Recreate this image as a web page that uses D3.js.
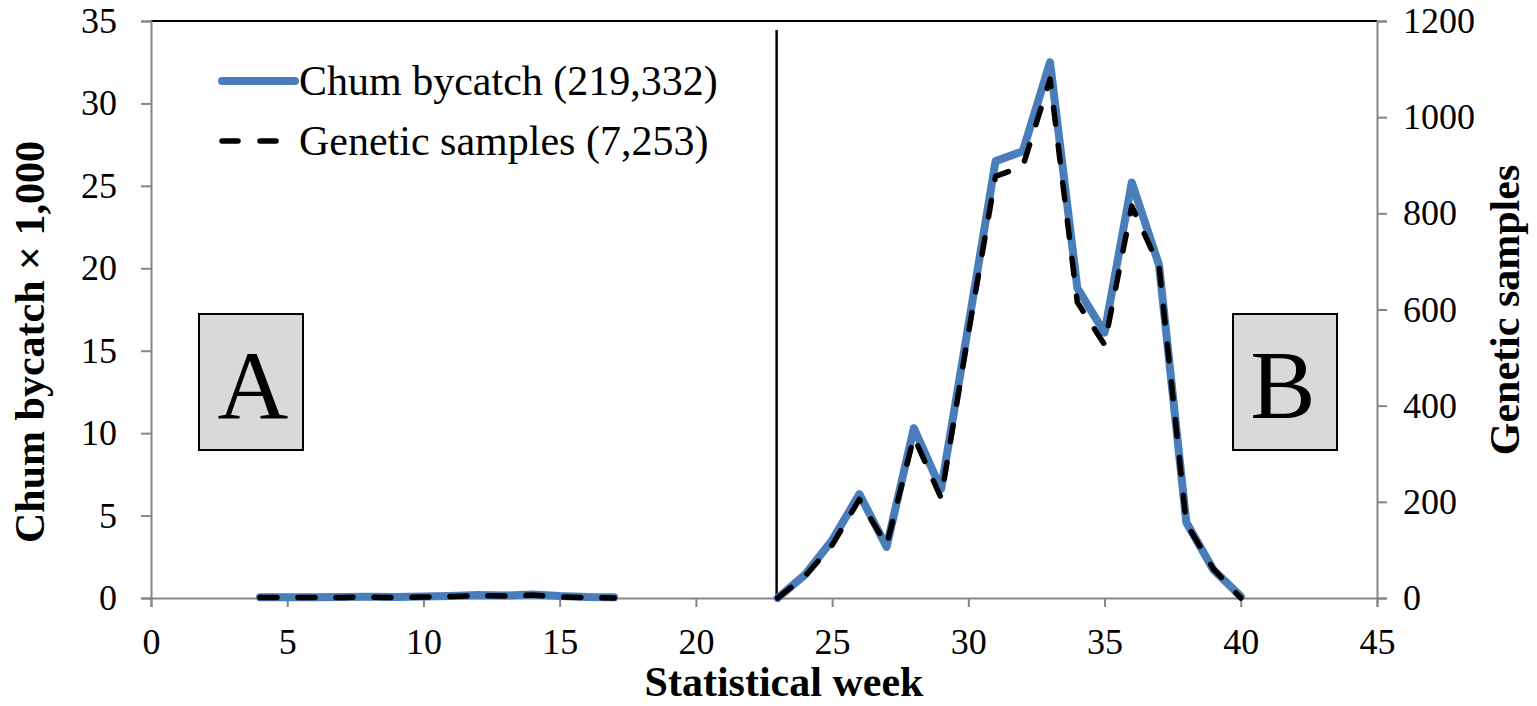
<!DOCTYPE html>
<html>
<head>
<meta charset="utf-8">
<script src="https://cdn.jsdelivr.net/npm/d3@7"></script>
<style>
  html, body { margin: 0; padding: 0; background: #fff; }
  svg { display: block; font-family: "Liberation Serif", "Times New Roman", serif; }
</style>
</head>
<body>
<svg id="chart" width="1537" height="706"></svg>
<script>
// ---- data ----
const weeks = [4,5,6,7,8,9,10,11,12,13,14,15,16,17,18,19,20,21,22,23,24,25,26,27,28,29,30,31,32,33,34,35,36,37,38,39,40];
// chum bycatch in thousands (null = no fishing)
const chumBycatch = [0.05,0.05,0.05,0.06,0.07,0.06,0.09,0.12,0.18,0.15,0.22,0.12,0.06,0.04,
  null,null,null,null,null,
  0,1.4,3.5,6.3,3.1,10.3,6.6,16.5,26.5,27.1,32.5,18.8,16.1,25.2,20.2,4.6,1.7,0.1];
const geneticSamples = [1,1,1,1,2,1,2,3,5,4,6,2,1,0,
  null,null,null,null,null,
  0,45,110,205,110,335,208,550,877,898,1079,615,527,815,690,155,60,0];
const xTicks = [0,5,10,15,20,25,30,35,40,45];
const yLeftTicks = [0,5,10,15,20,25,30,35];
const yRightTicks = [0,200,400,600,800,1000,1200];
const seriesNames = ["Chum bycatch (219,332)", "Genetic samples (7,253)"];
const boxLabels = ["A", "B"];
const splitWeek = 23;

// ---- layout ----
const svg = d3.select("#chart");
const L = 151, R = 1377, T = 21, B = 598;
const x = d3.scaleLinear().domain([0,45]).range([L,R]);
const yL = d3.scaleLinear().domain([0,35]).range([B,T]);
const yR = d3.scaleLinear().domain([0,1200]).range([B,T]);
const axisGray = "#868686";
const blue = "#4A7EBB";

// top border
svg.append("line").attr("x1",L).attr("x2",R).attr("y1",T).attr("y2",T)
  .attr("stroke","#000").attr("stroke-width",2);

// left axis
const gL = svg.append("g").attr("transform",`translate(${L},0)`)
  .call(d3.axisLeft(yL).tickValues(yLeftTicks).tickSize(10).tickPadding(24).tickFormat(d3.format("d")));
// right axis
const gR = svg.append("g").attr("transform",`translate(${R},0)`)
  .call(d3.axisRight(yR).tickValues(yRightTicks).tickSize(10).tickPadding(16).tickFormat(d3.format("d")));
// bottom axis
const gB = svg.append("g").attr("transform",`translate(0,${B})`)
  .call(d3.axisBottom(x).tickValues(xTicks).tickSize(9).tickPadding(21).tickFormat(d3.format("d")));

[gL,gR,gB].forEach(g => {
  g.select(".domain").attr("stroke",axisGray).attr("stroke-width",2);
  g.selectAll(".tick line").attr("stroke",axisGray).attr("stroke-width",2);
  g.selectAll(".tick text").attr("fill","#000").style("font-size","36px")
    .style("font-family",'"Liberation Serif", "Times New Roman", serif');
});

// axis titles
svg.append("text").attr("x",784).attr("y",696).attr("text-anchor","middle")
  .style("font-size","42px").style("font-weight","bold").text("Statistical week");
svg.append("text").attr("transform","translate(44,342) rotate(-90)").attr("text-anchor","middle")
  .style("font-size","42px").style("font-weight","bold").text("Chum bycatch × 1,000");
svg.append("text").attr("transform","translate(1519,310) rotate(-90)").attr("text-anchor","middle")
  .style("font-size","42px").style("font-weight","bold").text("Genetic samples");

// vertical divider at week 23
svg.append("line").attr("x1",x(splitWeek)-1).attr("x2",x(splitWeek)-1).attr("y1",30).attr("y2",B)
  .attr("stroke","#000").attr("stroke-width",2.5);

// lines
const rows = weeks.map((w,i)=>({w, c: chumBycatch[i], g: geneticSamples[i]}));
const lineC = d3.line().defined(d=>d.c!=null).x(d=>x(d.w)).y(d=>yL(d.c)).curve(d3.curveLinear);
const lineG = d3.line().defined(d=>d.g!=null).x(d=>x(d.w)).y(d=>yR(d.g)).curve(d3.curveLinear);

svg.append("path").datum(rows).attr("d",lineC).attr("fill","none").attr("stroke",blue)
  .attr("stroke-width",8).attr("stroke-linejoin","round").attr("stroke-linecap","round");
svg.append("path").datum(rows).attr("d",lineG).attr("fill","none").attr("stroke","#000")
  .attr("stroke-width",5.5).attr("stroke-dasharray","17,21").attr("stroke-linecap","round").attr("stroke-linejoin","round");

// legend
const leg = svg.append("g");
leg.append("line").attr("x1",222).attr("x2",295).attr("y1",81).attr("y2",81)
  .attr("stroke",blue).attr("stroke-width",8).attr("stroke-linecap","round");
leg.append("text").attr("x",299).attr("y",95).style("font-size","42px").text(seriesNames[0]);
leg.append("line").attr("x1",222).attr("x2",279).attr("y1",141).attr("y2",141)
  .attr("stroke","#000").attr("stroke-width",5.5).attr("stroke-dasharray","16,22").attr("stroke-linecap","round");
leg.append("text").attr("x",299).attr("y",155).style("font-size","42px").text(seriesNames[1]);

// A / B boxes
const boxW = 104, boxH = 136, boxTop = 314;
boxLabels.forEach((lab,i) => {
  const cx = i === 0 ? 251 : 1285;
  svg.append("rect").attr("x",cx-boxW/2).attr("y",boxTop).attr("width",boxW).attr("height",boxH)
    .attr("fill","#d9d9d9").attr("stroke","#000").attr("stroke-width",2);
  svg.append("text").attr("x",cx+ (i===0?2:-2)).attr("y",418).attr("text-anchor","middle")
    .style("font-size","98px").text(lab);
});
</script>
</body>
</html>
